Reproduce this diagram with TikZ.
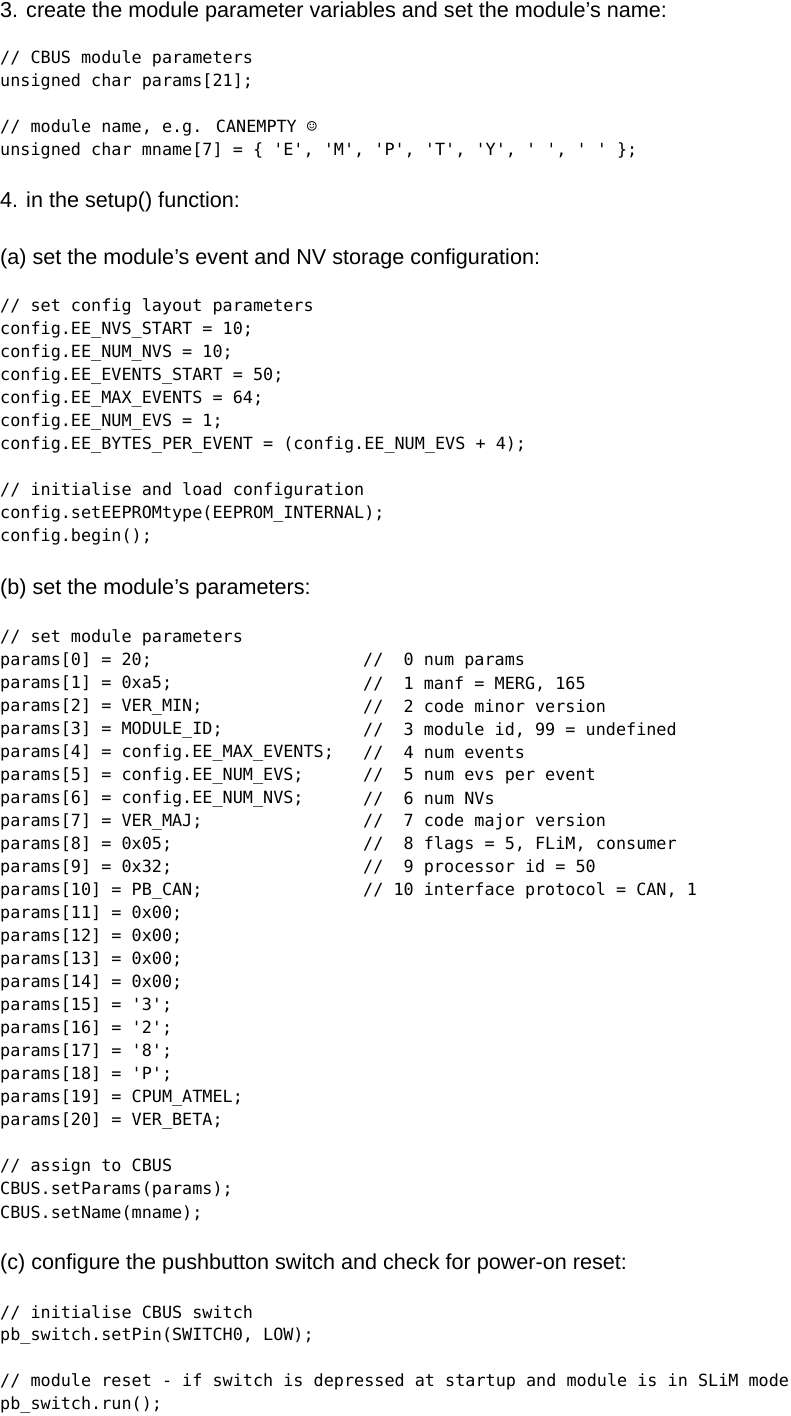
\documentclass[tikz,border=0pt]{standalone}
\usepackage{fontspec}
\setmainfont{Liberation Sans}
\newfontfamily\codefont{DejaVu Sans Mono}[Scale=1]
\tikzset{
  code/.style={anchor=west,inner sep=0pt,font=\codefont\fontsize{16.8}{20}\selectfont},
  prose/.style={anchor=west,inner sep=0pt,font=\fontsize{21.6}{26}\selectfont}
}
\newcommand\cl[3]{\node[code] (#1) at (0pt,-#2pt) {#3};}
\newcommand\cm[3]{\node[code] (#1) at (363pt,-#2pt) {#3};}
\newcommand\pl[3]{\node[prose] (#1) at (0pt,-#2pt) {#3};}
\begin{document}
\begin{tikzpicture}[x=1pt,y=1pt]
\useasboundingbox (0,0) rectangle (791,-1416);
\pl{h3}{12}{3. create the module parameter variables and set the module’s name:}
\cl{a1}{59}{// CBUS module parameters}
\cl{a2}{82}{unsigned char params[21];}
\cl{a3}{128}{// module name, e.g. CANEMPTY ☺}
\cl{a4}{151}{unsigned char mname[7] = \{ 'E', 'M', 'P', 'T', 'Y', ' ', ' ' \};}
\pl{h4}{202}{4. in the setup() function:}
\pl{ha}{259}{(a) set the module’s event and NV storage configuration:}
\cl{b1}{307}{// set config layout parameters}
\cl{b2}{330}{config.EE\_NVS\_START = 10;}
\cl{b3}{353}{config.EE\_NUM\_NVS = 10;}
\cl{b4}{376}{config.EE\_EVENTS\_START = 50;}
\cl{b5}{399}{config.EE\_MAX\_EVENTS = 64;}
\cl{b6}{422}{config.EE\_NUM\_EVS = 1;}
\cl{b7}{445}{config.EE\_BYTES\_PER\_EVENT = (config.EE\_NUM\_EVS + 4);}
\cl{c1}{491}{// initialise and load configuration}
\cl{c2}{514}{config.setEEPROMtype(EEPROM\_INTERNAL);}
\cl{c3}{537}{config.begin();}
\pl{hb}{589}{(b) set the module’s parameters:}
\cl{d0}{638}{// set module parameters}
\cl{p0}{661}{params[0] = 20;}\cm{q0}{661}{//~~0 num params}
\cl{p1}{684}{params[1] = 0xa5;}\cm{q1}{684}{//~~1 manf = MERG, 165}
\cl{p2}{707}{params[2] = VER\_MIN;}\cm{q2}{707}{//~~2 code minor version}
\cl{p3}{730}{params[3] = MODULE\_ID;}\cm{q3}{730}{//~~3 module id, 99 = undefined}
\cl{p4}{753}{params[4] = config.EE\_MAX\_EVENTS;}\cm{q4}{753}{//~~4 num events}
\cl{p5}{776}{params[5] = config.EE\_NUM\_EVS;}\cm{q5}{776}{//~~5 num evs per event}
\cl{p6}{799}{params[6] = config.EE\_NUM\_NVS;}\cm{q6}{799}{//~~6 num NVs}
\cl{p7}{822}{params[7] = VER\_MAJ;}\cm{q7}{822}{//~~7 code major version}
\cl{p8}{845}{params[8] = 0x05;}\cm{q8}{845}{//~~8 flags = 5, FLiM, consumer}
\cl{p9}{868}{params[9] = 0x32;}\cm{q9}{868}{//~~9 processor id = 50}
\cl{p10}{891}{params[10] = PB\_CAN;}\cm{q10}{891}{//~10 interface protocol = CAN, 1}
\cl{p11}{914}{params[11] = 0x00;}
\cl{p12}{937}{params[12] = 0x00;}
\cl{p13}{960}{params[13] = 0x00;}
\cl{p14}{983}{params[14] = 0x00;}
\cl{p15}{1006}{params[15] = '3';}
\cl{p16}{1029}{params[16] = '2';}
\cl{p17}{1052}{params[17] = '8';}
\cl{p18}{1075}{params[18] = 'P';}
\cl{p19}{1098}{params[19] = CPUM\_ATMEL;}
\cl{p20}{1121}{params[20] = VER\_BETA;}
\cl{e1}{1167}{// assign to CBUS}
\cl{e2}{1190}{CBUS.setParams(params);}
\cl{e3}{1213}{CBUS.setName(mname);}
\pl{hc}{1264}{(c) configure the pushbutton switch and check for power-on reset:}
\cl{f1}{1313}{// initialise CBUS switch}
\cl{f2}{1336}{pb\_switch.setPin(SWITCH0, LOW);}
\cl{f3}{1382}{// module reset - if switch is depressed at startup and module is in SLiM mode}
\cl{f4}{1405}{pb\_switch.run();}
\end{tikzpicture}
\end{document}
